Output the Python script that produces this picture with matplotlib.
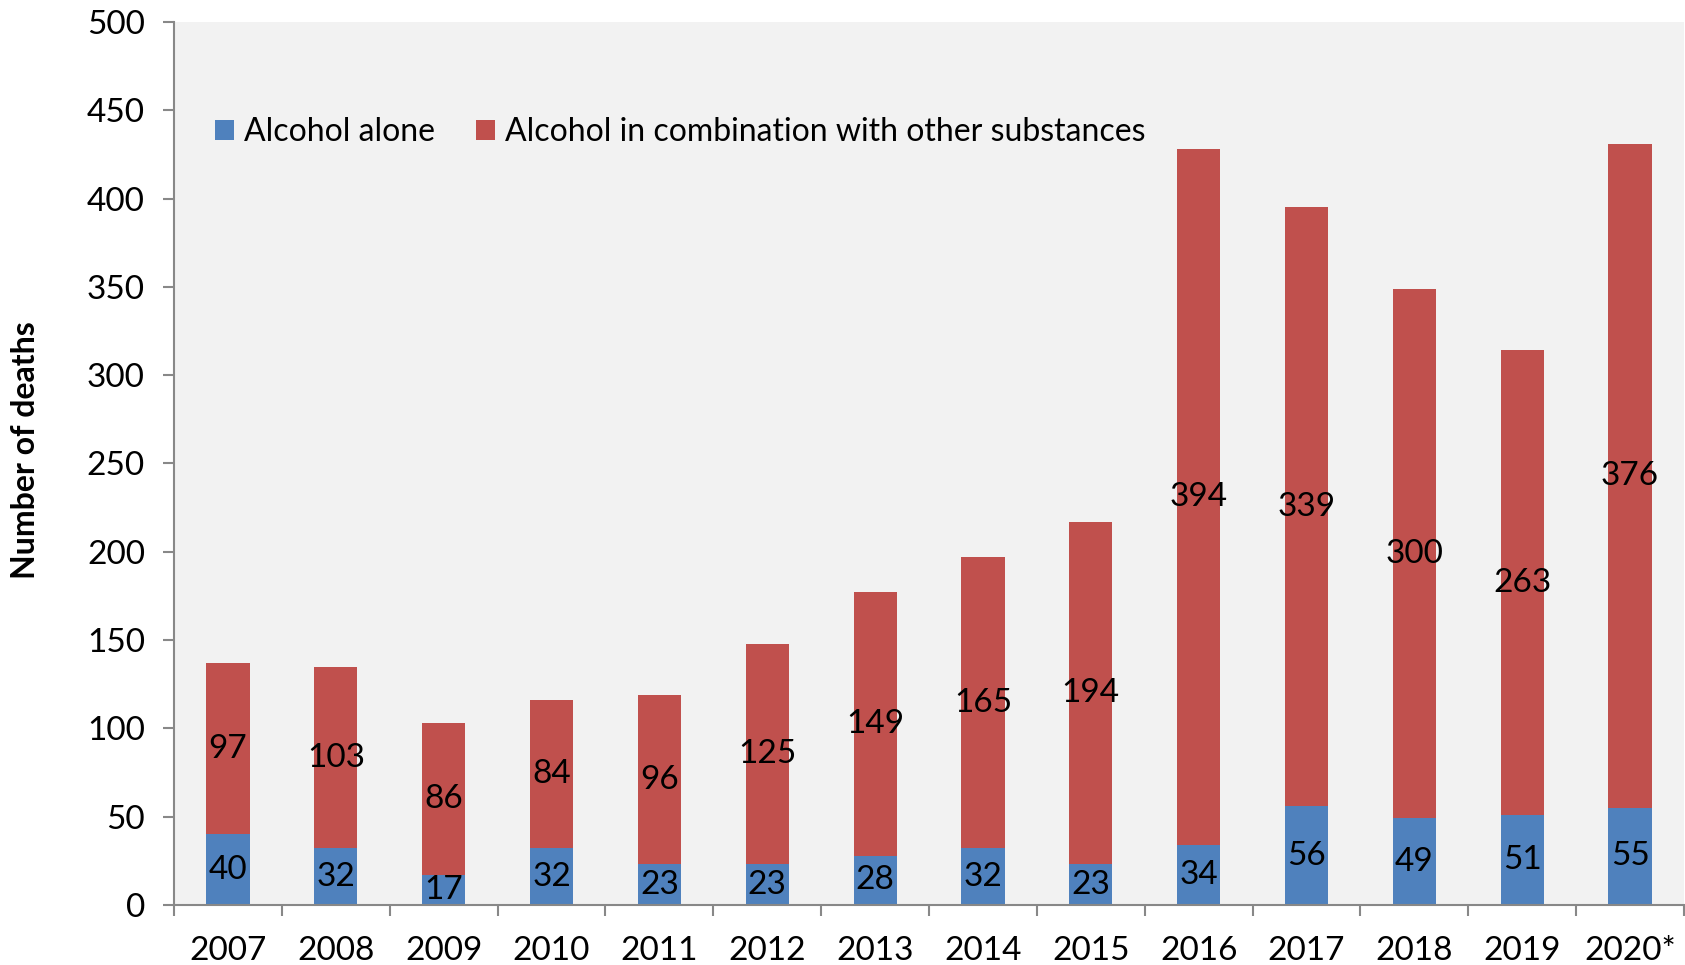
import numpy as np
import matplotlib.pyplot as plt
from matplotlib.ticker import FixedLocator

years = ['2007', '2008', '2009', '2010', '2011', '2012', '2013', '2014',
         '2015', '2016', '2017', '2018', '2019', '2020*']
alcohol_alone = [40, 32, 17, 32, 23, 23, 28, 32, 23, 34, 56, 49, 51, 55]
alcohol_combo = [97, 103, 86, 84, 96, 125, 149, 165, 194, 394, 339, 300, 263, 376]

plt.rcParams['font.family'] = ['Lato', 'DejaVu Sans']

fig = plt.figure(figsize=(16.85, 9.65), dpi=100)
ax = fig.add_axes([0.1033, 0.0622, 0.8961, 0.915])
ax.set_facecolor('#F2F2F2')

x = np.arange(len(years))
blue = '#4F81BD'
red = '#C0504D'
b1 = ax.bar(x, alcohol_alone, width=0.4, color=blue, label='Alcohol alone')
b2 = ax.bar(x, alcohol_combo, width=0.4, bottom=alcohol_alone, color=red,
            label='Alcohol in combination with other substances')

ax.bar_label(b1, labels=[str(v) for v in alcohol_alone], label_type='center', fontsize=24)
ax.bar_label(b2, labels=[str(v) for v in alcohol_combo], label_type='center', fontsize=24)

ax.set_xlim(-0.5, len(years) - 0.5)
ax.set_ylim(0, 500)
ax.set_yticks(range(0, 501, 50))
ax.tick_params(axis='y', labelsize=24, length=8, width=1.5, color='#888888', pad=13)

ax.set_xticks(x)
ax.set_xticklabels(years)
ax.tick_params(axis='x', which='major', length=0, labelsize=24, pad=22)
ax.xaxis.set_minor_locator(FixedLocator(np.arange(-0.5, len(years), 1)))
ax.tick_params(axis='x', which='minor', length=8, width=1.5, color='#888888')

for s in ['top', 'right']:
    ax.spines[s].set_visible(False)
for s in ['left', 'bottom']:
    ax.spines[s].set_color('#888888')
    ax.spines[s].set_linewidth(1.5)

ax.set_ylabel('Number of deaths', fontsize=23, fontweight='bold')
ax.yaxis.set_label_coords(-0.089, 0.515)

ax.legend(loc='upper left', bbox_to_anchor=(0.008, 0.925), ncol=2, frameon=False,
          fontsize=23, handlelength=0.6, handleheight=0.6, handletextpad=0.3,
          columnspacing=1.3)

plt.savefig('out.png', dpi=100)
